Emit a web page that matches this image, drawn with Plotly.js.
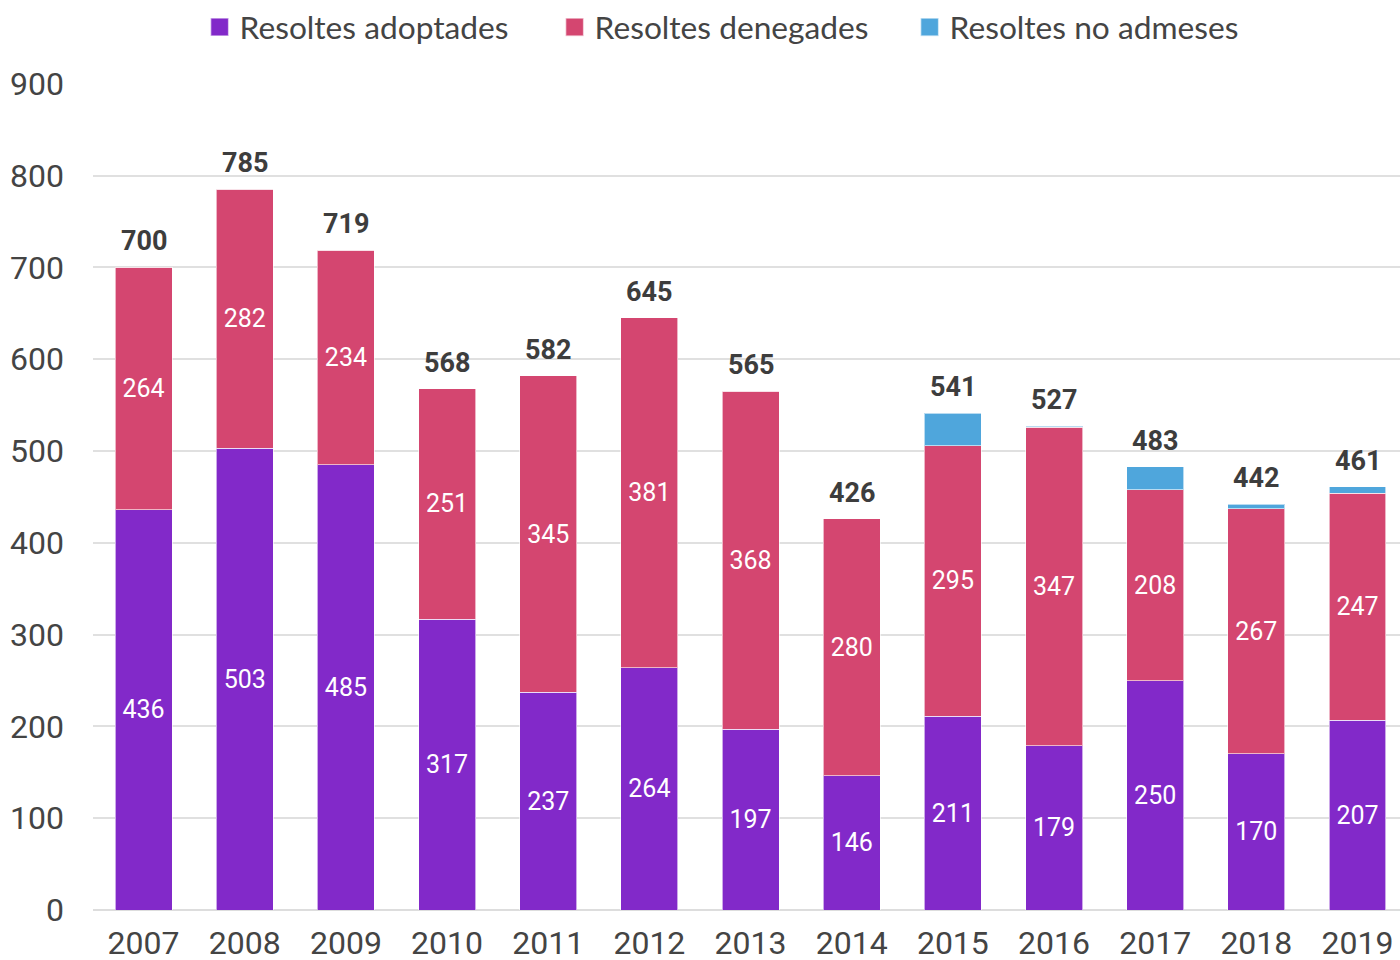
<!DOCTYPE html>
<html>
<head>
<meta charset="utf-8">
<script src="https://cdn.plot.ly/plotly-3.0.1.min.js"></script>
<style>html,body{margin:0;padding:0;background:#fff;}#chart{width:1400px;height:960px;}</style>
</head>
<body>
<div id="chart"></div>
<script>
const years = ['2007','2008','2009','2010','2011','2012','2013','2014','2015','2016','2017','2018','2019'];
const adoptades = [436, 503, 485, 317, 237, 264, 197, 146, 211, 179, 250, 170, 207];
const denegades = [264, 282, 234, 251, 345, 381, 368, 280, 295, 347, 208, 267, 247];
const noAdmeses = [0, 0, 0, 0, 0, 0, 0, 0, 35, 1, 25, 5, 7];
const totals = years.map((_, i) => adoptades[i] + denegades[i] + noAdmeses[i]);

const segFont = {family: 'Roboto', size: 25, color: '#ffffff'};
const lineStyle = {color: 'rgba(255,255,255,0.6)', width: 1};

const traces = [
  {type: 'bar', name: 'Resoltes adoptades', x: years, y: adoptades,
   marker: {color: '#8229C9', line: lineStyle},
   text: adoptades.map(String), textposition: 'inside', insidetextanchor: 'middle',
   textfont: segFont, hoverinfo: 'none'},
  {type: 'bar', name: 'Resoltes denegades', x: years, y: denegades,
   marker: {color: '#D44670', line: lineStyle},
   text: denegades.map(String), textposition: 'inside', insidetextanchor: 'middle',
   textfont: segFont, hoverinfo: 'none'},
  {type: 'bar', name: 'Resoltes no admeses', x: years, y: noAdmeses,
   marker: {color: '#4FA6DC', line: lineStyle},
   textposition: 'none', hoverinfo: 'none'}
];

// category axis: annotation x uses the category index
const annotations = years.map((yr, i) => ({
  x: i, y: totals[i], xref: 'x', yref: 'y', text: String(totals[i]),
  showarrow: false, yanchor: 'bottom', yshift: 8,
  font: {family: 'Roboto', size: 27, color: '#3d3d3d', weight: 'bold'}
}));

const layout = {
  width: 1400, height: 960,
  margin: {l: 93, r: 0, t: 83, b: 50},
  barmode: 'stack',
  bargap: 0.437,
  paper_bgcolor: '#ffffff', plot_bgcolor: '#ffffff',
  showlegend: true,
  annotations: annotations,
  legend: {orientation: 'h', x: 0.489, xanchor: 'center', y: 1.0, yanchor: 'top',
           yref: 'container', font: {family: 'Lato', size: 31.7, color: '#444444'},
           traceorder: 'normal', itemwidth: 30, entrywidth: 310, entrywidthmode: 'pixels'},
  xaxis: {type: 'category', range: [-0.5, 12.42], showgrid: false, zeroline: false,
          showline: false, ticks: '', tickfont: {family: 'Roboto', size: 32, color: '#444444'},
          ticklabelstandoff: 11},
  yaxis: {range: [0, 901], tickvals: [0,100,200,300,400,500,600,700,800,900],
          showgrid: true, gridcolor: '#e0e0e0', gridwidth: 2,
          zeroline: true, zerolinecolor: '#dddddd', zerolinewidth: 2,
          showline: false, ticks: '', tickfont: {family: 'Roboto', size: 32, color: '#444444'},
          ticklabelstandoff: 28}
};

Plotly.newPlot('chart', traces, layout, {displayModeBar: false, staticPlot: true}).then(gd => {
  // enlarge the legend swatches to the reference's square size
  gd.querySelectorAll('.legend .legendpoints path').forEach(p => {
    p.setAttribute('transform', 'translate(20,0) scale(1.5)');
  });
});
</script>
</body>
</html>
